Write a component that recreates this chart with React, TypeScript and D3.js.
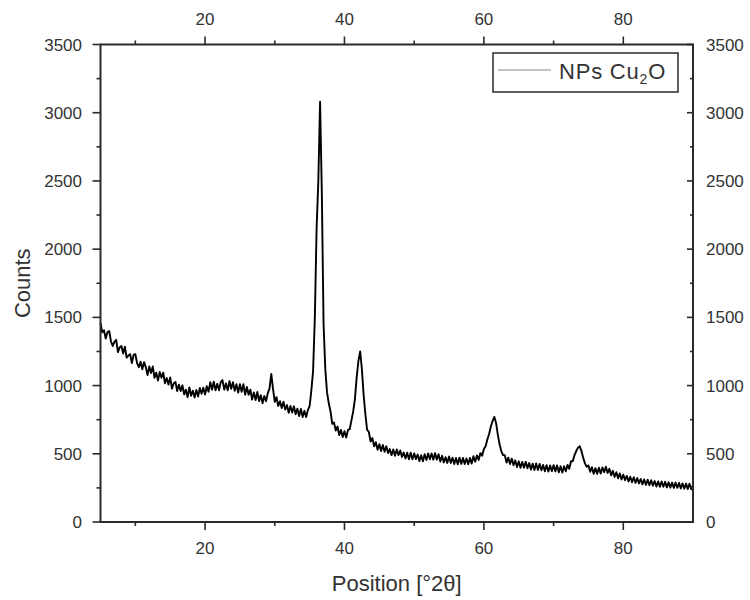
import React from "react";
import * as d3 from "d3";

// XRD scan: 2θ grid start/step of the diffractometer, and the recorded counts
const scanStart = 5;
const scanStep = 0.25;
const counts: number[] = [
  1460, 1390, 1405, 1345,
  1390, 1400, 1325, 1290,
  1320, 1335, 1245, 1280,
  1290, 1235, 1285, 1205,
  1220, 1230, 1165, 1225,
  1230, 1165, 1135, 1175,
  1120, 1172, 1135, 1077,
  1140, 1092, 1140, 1057,
  1095, 1037, 1100, 1057,
  1095, 1017, 1055, 1007,
  1060, 977, 1015, 1027,
  960, 1007, 960, 1002,
  935, 970, 915, 987,
  925, 963, 912, 967,
  920, 982, 940, 985,
  935, 995, 955, 1025,
  970, 1028, 966, 1013,
  965, 1025, 1040, 970,
  1015, 965, 1033, 977,
  1025, 962, 1010, 948,
  1010, 955, 1010, 933,
  990, 933, 970, 897,
  950, 894, 953, 886,
  930, 870, 923, 885,
  945, 980, 1085, 975,
  880, 915, 850, 885,
  835, 882, 825, 857,
  800, 851, 802, 848,
  790, 831, 777, 828,
  770, 815, 770, 820,
  850, 965, 1110, 1500,
  2150, 2500, 3080, 2420,
  1450, 1120, 950, 870,
  810, 720, 730, 670,
  700, 637, 675, 623,
  665, 620, 675, 680,
  745, 810, 900, 1060,
  1180, 1250, 1120, 930,
  790, 675, 660, 590,
  615, 555, 585, 530,
  570, 520, 565, 515,
  555, 505, 535, 490,
  532, 485, 532, 490,
  525, 477, 509, 466,
  508, 460, 508, 460,
  503, 461, 494, 447,
  490, 445, 497, 455,
  503, 460, 502, 457,
  505, 457, 497, 443,
  485, 437, 475, 433,
  480, 433, 472, 425,
  469, 423, 472, 426,
  470, 425, 466, 423,
  470, 428, 482, 442,
  488, 455, 505, 485,
  535, 555, 605, 645,
  700, 740, 770, 725,
  640, 570, 520, 490,
  490, 435, 472, 425,
  465, 416, 452, 403,
  445, 397, 440, 398,
  441, 394, 432, 385,
  428, 381, 429, 382,
  425, 379, 418, 372,
  416, 370, 414, 373,
  417, 371, 415, 364,
  408, 363, 409, 372,
  418, 390, 445, 445,
  490, 520, 545, 555,
  520, 470, 430, 405,
  415, 368, 402, 353,
  395, 353, 398, 355,
  400, 365, 405, 360,
  390, 342, 375, 330,
  365, 320, 356, 312,
  348, 306, 338, 297,
  332, 291, 328, 287,
  322, 282, 316, 276,
  312, 272, 310, 270,
  306, 266, 300, 260,
  297, 258, 297, 258,
  295, 254, 291, 252,
  289, 250, 289, 250,
  287, 246, 283, 244,
  281, 242, 281, 240,
  270,
];

const xMajorTicks = [20, 40, 60, 80];
const xMinorTicks = [10, 30, 50, 70];
const yMajorTicks = [0, 500, 1000, 1500, 2000, 2500, 3000, 3500];
const yMinorTicks = [250, 750, 1250, 1750, 2250, 2750, 3250];

const seriesName = "NPs Cu";
const xTitle = "Position [°2θ]";
const yTitle = "Counts";

const W = 750;
const H = 600;
const left = 100.5;
const right = 693;
const top = 44.5;
const bottom = 522;

const FONT = "'Liberation Sans', Arial, sans-serif";
const AXIS = "#2a2a2a";
const LABEL = "#333";

export default function App() {
  const x = d3.scaleLinear().domain([5, 90]).range([left, right]);
  const y = d3.scaleLinear().domain([0, 3500]).range([bottom, top]);

  const points: [number, number][] = counts.map((c, i) => [scanStart + i * scanStep, c]);
  const line = d3
    .line<[number, number]>()
    .x((d) => x(d[0]))
    .y((d) => y(d[1]));

  const tickStyle = { stroke: AXIS, strokeWidth: 1.6 };

  return (
    <svg
      width={W}
      height={H}
      style={{ position: "absolute", left: 0, top: 0, background: "#fff" }}
      fontFamily={FONT}
    >
      <rect x={0} y={0} width={W} height={H} fill="#fff" />

      {/* data trace */}
      <path d={line(points) ?? ""} fill="none" stroke="#000" strokeWidth={1.9} strokeLinejoin="round" />

      {/* frame */}
      <rect x={left} y={top} width={right - left} height={bottom - top} fill="none" stroke={AXIS} strokeWidth={2} />

      {/* bottom and top axes */}
      {xMajorTicks.map((t) => (
        <g key={"xb" + t}>
          <line x1={x(t)} x2={x(t)} y1={bottom} y2={bottom + 8} {...tickStyle} />
          <line x1={x(t)} x2={x(t)} y1={top} y2={top - 8} {...tickStyle} />
          <text x={x(t)} y={554} textAnchor="middle" fontSize={17} fill={LABEL}>
            {t}
          </text>
          <text x={x(t)} y={25} textAnchor="middle" fontSize={17} fill={LABEL}>
            {t}
          </text>
        </g>
      ))}
      {xMinorTicks.map((t) => (
        <g key={"xm" + t}>
          <line x1={x(t)} x2={x(t)} y1={bottom} y2={bottom + 4} {...tickStyle} />
          <line x1={x(t)} x2={x(t)} y1={top} y2={top - 4} {...tickStyle} />
        </g>
      ))}

      {/* left and right axes */}
      {yMajorTicks.map((t) => (
        <g key={"yl" + t}>
          <line x1={left} x2={left - 8} y1={y(t)} y2={y(t)} {...tickStyle} />
          <line x1={right} x2={right - 6} y1={y(t)} y2={y(t)} {...tickStyle} />
          <text x={82} y={y(t) + 6} textAnchor="end" fontSize={17} fill={LABEL}>
            {t}
          </text>
          <text x={706} y={y(t) + 6} textAnchor="start" fontSize={17} fill={LABEL}>
            {t}
          </text>
        </g>
      ))}
      {yMinorTicks.map((t) => (
        <g key={"ym" + t}>
          <line x1={left} x2={left - 4} y1={y(t)} y2={y(t)} {...tickStyle} />
          <line x1={right} x2={right - 3} y1={y(t)} y2={y(t)} {...tickStyle} />
        </g>
      ))}

      {/* axis titles */}
      <text x={(left + right) / 2} y={591} textAnchor="middle" fontSize={22} fill={LABEL}>
        {xTitle}
      </text>
      <text
        transform={`translate(30, ${(top + bottom) / 2}) rotate(-90)`}
        textAnchor="middle"
        fontSize={22}
        fill={LABEL}
      >
        {yTitle}
      </text>

      {/* legend */}
      <rect x={493} y={53} width={185} height={39} fill="#fff" stroke={AXIS} strokeWidth={1.5} />
      <line x1={498} x2={551} y1={70} y2={70} stroke="#888" strokeWidth={1} />
      <text x={559} y={79} fontSize={22} letterSpacing={0.8} fill={LABEL}>
        {seriesName}
        <tspan fontSize={14} dy={5}>2</tspan>
        <tspan dy={-5}>O</tspan>
      </text>
    </svg>
  );
}
